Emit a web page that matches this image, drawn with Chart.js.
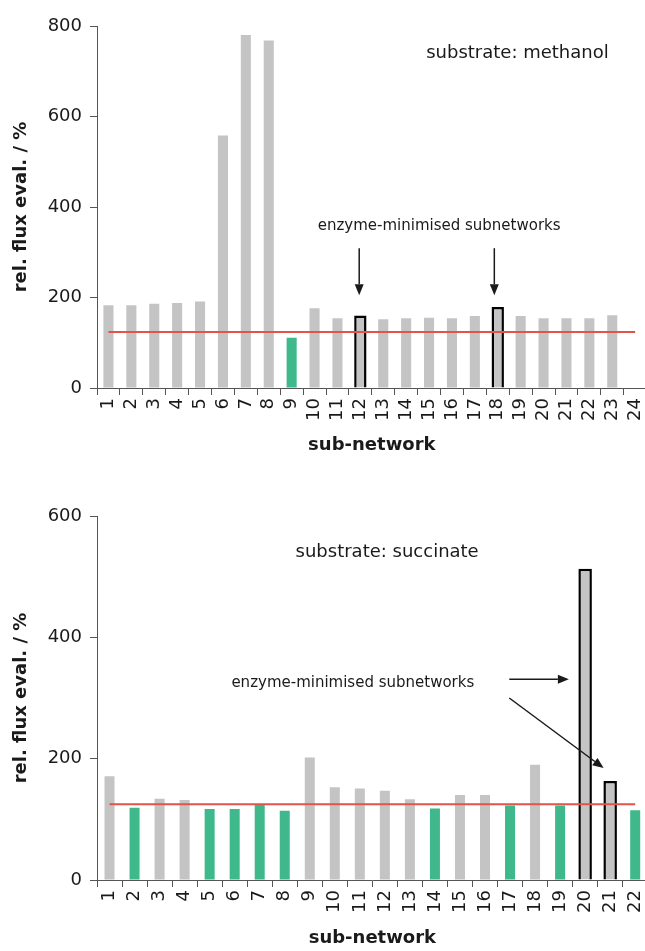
<!DOCTYPE html>
<html>
<head>
<meta charset="utf-8">
<script src="https://cdn.jsdelivr.net/npm/chart.js@4"></script>
<style>
  html, body { margin: 0; padding: 0; background: #fff; overflow: hidden; }
  body { width: 645px; height: 951px; position: relative; }
  .box { position: absolute; left: 0; width: 660px; }
  #top { top: 0; height: 475px; }
  #bot { top: 475px; height: 476px; }
</style>
</head>
<body>
<div class="box" id="top"><canvas id="chartTop"></canvas></div>
<div class="box" id="bot"><canvas id="chartBot"></canvas></div>
<script>
// Data-----
const topLabels = ['1','2','3','4','5','6','7','8','9','10','11','12','13','14','15','16','17','18','19','20','21','22','23','24'];
const topValues = [183, 183, 186, 188, 191, 558, 780, 768, 111, 176, 154, 160, 152, 154, 155, 154, 159, 179, 159, 154, 154, 154, 161, null];
const topGreen = ['9'];
const topMarked = ['12', '18'];
const topRef = 124;

const botLabels = ['1','2','3','4','5','6','7','8','9','10','11','12','13','14','15','16','17','18','19','20','21','22'];
const botValues = [171, 119, 134, 132, 117, 117, 124, 114, 202, 153, 151, 147, 133, 118, 140, 140, 123, 190, 123, 513, 163, 115];
const botGreen = ['2', '5', '6', '7', '8', '14', '17', '19', '22'];
const botMarked = ['20', '21'];
const botRef = 125;
// Data-----

const GREY = '#c4c4c4';
const GREEN = '#3fb88c';
const RED = '#e0554a';
const INK = '#1a1a1a';
const AXIS = '#555555';
const FONT = "'DejaVu Sans', sans-serif";

// notes: text and arrows placed in data units (category index, value)
function notesPlugin(texts, arrows) {
    return {
        id: 'notes',
        afterDraw(chart) {
            const {ctx, scales: {x, y}} = chart;
            ctx.save();
            ctx.fillStyle = INK;
            ctx.textAlign = 'center';
            ctx.textBaseline = 'middle';
            texts.forEach(t => {
                ctx.font = t.size + 'px ' + FONT;
                ctx.fillText(t.text, x.getPixelForValue(t.x), y.getPixelForValue(t.y));
            });
            ctx.strokeStyle = INK;
            ctx.lineWidth = 1.5;
            arrows.forEach(a => {
                const x0 = x.getPixelForValue(a.from[0]), y0 = y.getPixelForValue(a.from[1]);
                const x1 = x.getPixelForValue(a.to[0]), y1 = y.getPixelForValue(a.to[1]);
                const ang = Math.atan2(y1 - y0, x1 - x0);
                const len = 11, half = 4.5;
                const bx = x1 - len * Math.cos(ang), by = y1 - len * Math.sin(ang);
                ctx.beginPath();
                ctx.moveTo(x0, y0);
                ctx.lineTo(bx, by);
                ctx.stroke();
                ctx.beginPath();
                ctx.moveTo(x1, y1);
                ctx.lineTo(bx + half * Math.sin(ang), by - half * Math.cos(ang));
                ctx.lineTo(bx - half * Math.sin(ang), by + half * Math.cos(ang));
                ctx.closePath();
                ctx.fill();
            });
            ctx.restore();
        }
    };
}

function buildConfig(labels, values, green, marked, ref, opts) {
    const plain = values.map((v, i) => marked.includes(labels[i]) ? null : v);
    const boxed = values.map((v, i) => marked.includes(labels[i]) ? v : null);
    return {
        type: 'bar',
        data: {
            labels: labels,
            datasets: [{
                type: 'line',
                data: [{x: labels[0], y: ref}, {x: labels[labels.length - 1], y: ref}],
                borderColor: RED,
                borderWidth: 2,
                pointRadius: 0,
                order: 0
            }, {
                data: plain,
                backgroundColor: labels.map(l => green.includes(l) ? GREEN : GREY),
                borderWidth: 0,
                grouped: false,
                categoryPercentage: 1,
                barPercentage: opts.barPct,
                order: 1
            }, {
                data: boxed,
                backgroundColor: GREY,
                borderColor: '#000000',
                borderWidth: 2.5,
                grouped: false,
                categoryPercentage: 1,
                barPercentage: opts.boxPct,
                order: 1
            }]
        },
        options: {
            responsive: true,
            maintainAspectRatio: false,
            animation: false,
            layout: {padding: {top: opts.padTop, right: opts.padRight, left: 0, bottom: 0}},
            plugins: {legend: {display: false}, tooltip: {enabled: false}},
            scales: {
                x: {
                    afterFit(scale) { scale.height = opts.xHeight; },
                    grid: {drawOnChartArea: false, drawTicks: true, tickLength: 7, color: AXIS, offset: true},
                    border: {color: AXIS, width: 1},
                    ticks: {
                        autoSkip: false, minRotation: 90, maxRotation: 90, padding: 3,
                        color: INK, font: {family: FONT, size: 18}
                    },
                    title: {
                        display: true, text: 'sub-network', color: INK,
                        font: {family: FONT, size: 18, weight: 'bold'},
                        padding: {top: 0, bottom: opts.titlePad}
                    }
                },
                y: {
                    min: 0, max: opts.yMax,
                    afterFit(scale) { scale.width = 97; },
                    grid: {drawOnChartArea: false, drawTicks: true, tickLength: 7, color: AXIS},
                    border: {color: AXIS, width: 1},
                    ticks: {stepSize: 200, padding: 8, color: INK, font: {family: FONT, size: 18}},
                    title: {
                        display: true, text: 'rel. flux eval. / %', color: INK,
                        font: {family: FONT, size: 18, weight: 'bold'},
                        padding: {top: 11, bottom: 0}
                    }
                }
            }
        },
        plugins: [notesPlugin(opts.texts, opts.arrows)]
    };
}

// Config-----
const topConfig = buildConfig(topLabels, topValues, topGreen, topMarked, topRef, {
    barPct: 0.44, boxPct: 0.54, padTop: 26, padRight: 12, xHeight: 87, titlePad: 19, yMax: 800,
    texts: [
        {text: 'substrate: methanol', x: 17.86, y: 740, size: 18},
        {text: 'enzyme-minimised subnetworks', x: 14.44, y: 358, size: 15}
    ],
    arrows: [
        {from: [10.95, 309], to: [10.95, 205]},
        {from: [16.85, 309], to: [16.85, 205]}
    ]
});

const botConfig = buildConfig(botLabels, botValues, botGreen, botMarked, botRef, {
    barPct: 0.40, boxPct: 0.54, padTop: 41, padRight: 9, xHeight: 71, titlePad: 2, yMax: 600,
    texts: [
        {text: 'substrate: succinate', x: 11.09, y: 540, size: 18},
        {text: 'enzyme-minimised subnetworks', x: 9.72, y: 324, size: 15}
    ],
    arrows: [
        {from: [15.97, 331], to: [18.35, 331]},
        {from: [15.97, 300], to: [19.74, 184.5]}
    ]
});
// Config-----

new Chart(document.getElementById('chartTop'), topConfig);
new Chart(document.getElementById('chartBot'), botConfig);
</script>
</body>
</html>
